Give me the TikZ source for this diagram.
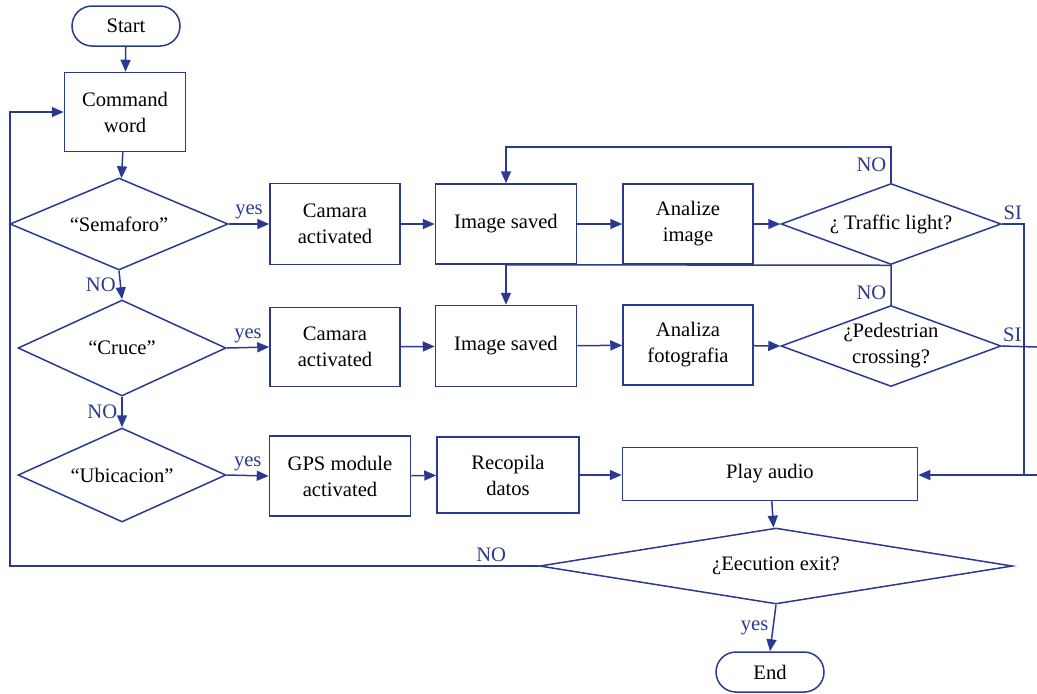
\documentclass[tikz,border=0pt]{standalone}
\usepackage{fontspec}
\setmainfont{Liberation Serif}
\usetikzlibrary{shapes.geometric,arrows.meta,positioning,calc}
\definecolor{flowblue}{RGB}{43,57,144}

\begin{document}
\begin{tikzpicture}[x=0.5pt, y=-0.5pt, >={Triangle[length=6pt,width=5pt]},
    every node/.style={font=\fontsize{10.3}{13}\selectfont},
    box/.style={draw=flowblue, line width=0.75pt, align=center, inner sep=0pt},
    term/.style={box, rounded corners=10pt, minimum width=54pt, minimum height=20pt},
    dia/.style={draw=flowblue, line width=0.75pt, diamond, inner sep=0pt},
    lbl/.style={text=flowblue, inner sep=2pt},
    line/.style={draw=flowblue, line width=0.75pt},
    arr/.style={line, ->}]
        \useasboundingbox (0,0) rectangle (1037,693);

        % left column
        \node[term] (start) at (126,26) {Start};
        \node[box, minimum width=60.5pt, minimum height=39.5pt] (cmd) at (125,112) {Command\\word};
        \node[dia, minimum width=109pt, minimum height=46pt,
              label=center:{``Semaforo''}] (sem) at (119,224) {};
        \node[dia, minimum width=104pt, minimum height=48pt,
              label=center:{``Cruce''}] (cru) at (122,348) {};
        \node[dia, minimum width=104pt, minimum height=47pt,
              label=center:{``Ubicacion''}] (ubi) at (122,475) {};

        % semaforo row
        \node[box, minimum width=65pt, minimum height=40.5pt] (cam1) at (335,224) {Camara\\activated};
        \node[box, minimum width=70.5pt, minimum height=40pt] (img1) at (506,224) {Image saved};
        \node[box, minimum width=65pt, minimum height=40pt] (ana1) at (688,224) {Analize\\image};
        \node[dia, minimum width=110pt, minimum height=40.5pt,
              label=center:{¿ Traffic light?}] (tl) at (891,224) {};

        % cruce row
        \node[box, minimum width=65pt, minimum height=39.5pt] (cam2) at (335,347) {Camara\\activated};
        \node[box, minimum width=70.5pt, minimum height=40.5pt] (img2) at (506,346) {Image saved};
        \node[box, minimum width=65pt, minimum height=40pt] (ana2) at (688,345) {Analiza\\fotografia};
        \node[dia, minimum width=110pt, minimum height=40.5pt,
              label={[align=center]center:{¿Pedestrian\\crossing?}}] (ped) at (891,346) {};

        % ubicacion row
        \node[box, minimum width=70.5pt, minimum height=40pt] (gps) at (340,476) {GPS module\\activated};
        \node[box, minimum width=71pt, minimum height=38pt] (rec) at (508,475) {Recopila\\datos};
        \node[box, minimum width=147.5pt, minimum height=26.5pt] (play) at (770,474) {Play audio};

        % exit
        \node[dia, minimum width=236.5pt, minimum height=38pt,
              label=center:{¿Eecution exit?}] (exit) at (776,566) {};
        \node[term] (end) at (770,672) {End};

        % helper points
        \coordinate (tltop) at (891,147);
        \coordinate (siturn) at (1024,475);
        \coordinate (siright) at (1037,475);
        \coordinate (pedright) at (1037,347);
        \coordinate (loopbot) at (10,566);
        \coordinate (looptop) at (10,112);

        % Arrows
        \draw[arr] (start) -- (cmd);
        \draw[arr] (cmd) -- (sem);
        \draw[arr] (sem.south) -- (cru.north) node[midway, left, lbl] {NO};
        \draw[arr] (cru.south) -- (ubi.north) node[midway, left, lbl] {NO};

        \draw[arr] (sem.east) -- (cam1.west) node[midway, above, lbl] {yes};
        \draw[arr] (cru.east) -- (cam2.west) node[midway, above, lbl] {yes};
        \draw[arr] (ubi.east) -- (gps.west) node[midway, above, lbl] {yes};

        \draw[arr] (cam1) -- (img1);
        \draw[arr] (img1) -- (ana1);
        \draw[arr] (ana1) -- (tl.west);
        \draw[arr] (cam2) -- (img2);
        \draw[arr] (img2) -- (ana2);
        \draw[arr] (ana2) -- (ped.west);
        \draw[arr] (img1) -- (img2);
        \draw[arr] (gps) -- (rec);
        \draw[arr] (rec.east) -- (rec.east -| play.west);

        % NO back loops
        \draw[arr] (tl.north) -- (tltop) node[midway, left, lbl] {NO} -| (img1.north);
        \draw[line] (ped.north) -- (tl.south) node[pos=0.3, left, lbl] {NO} -- (img1.south);

        % SI branches
        \draw[line] (tl.east) -- (tl.east -| siturn) node[midway, above, lbl] {SI} -- (siturn) -- (siright);
        \draw[arr] (siturn) -- (play.east |- siturn);
        \draw[line] (ped.east) -- (pedright) node[pos=0.3, above, lbl] {SI};

        % exit
        \draw[arr] (play) -- (exit);
        \draw[arr] (exit.south) -- (end.north) node[midway, left, lbl] {yes};
        \draw[arr] (exit.west) -- (loopbot) node[pos=0.09, above, lbl] {NO}
            -- (looptop) -- (cmd.west);
    \end{tikzpicture}
\end{document}
